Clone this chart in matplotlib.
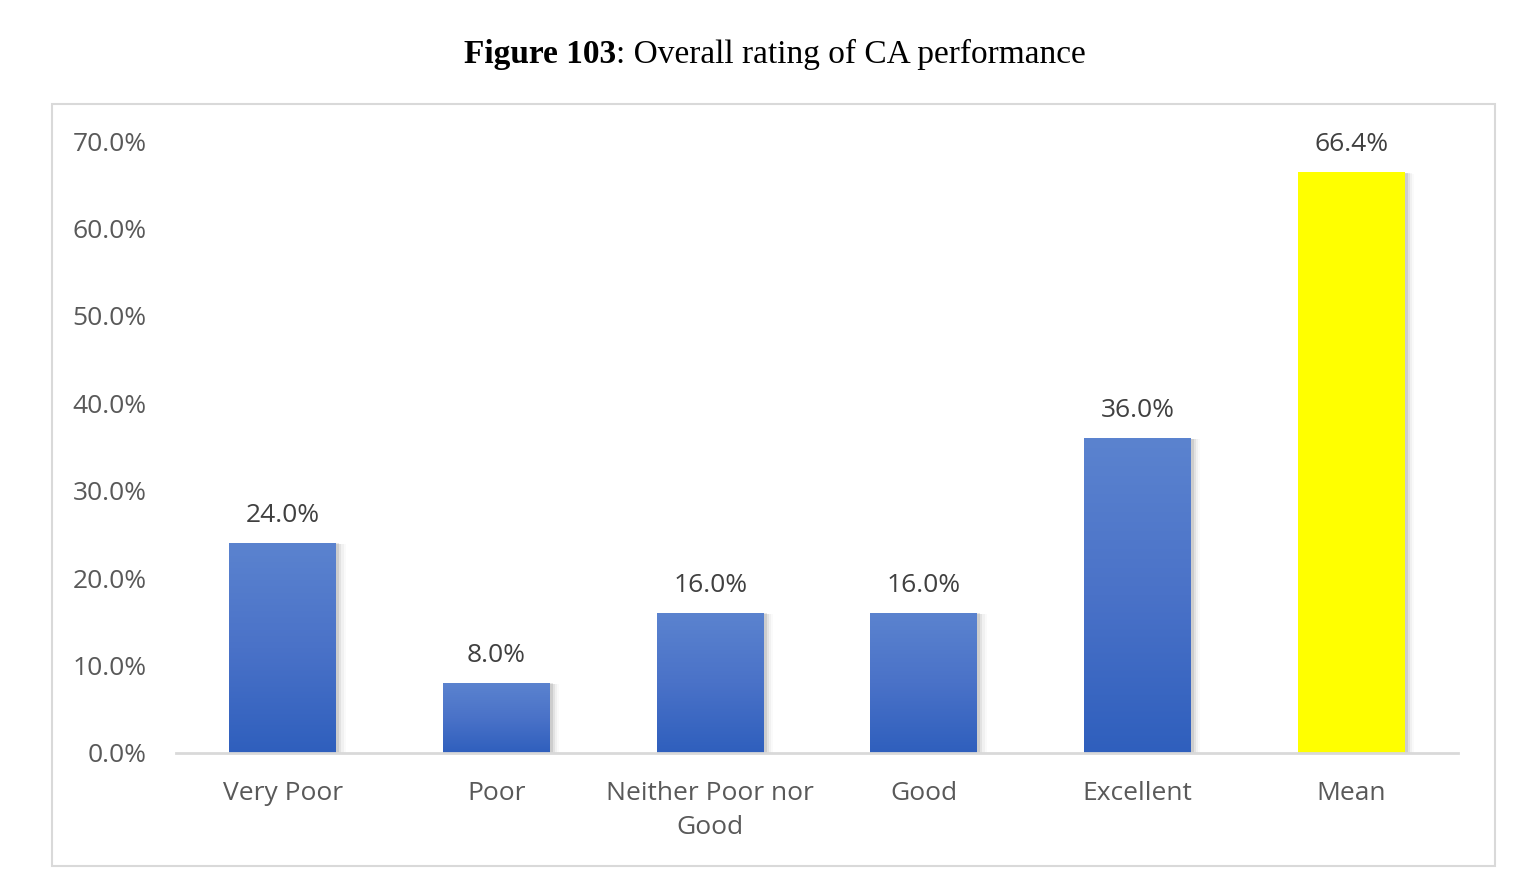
import numpy as np
import matplotlib.pyplot as plt
from matplotlib.patches import Rectangle
from matplotlib.colors import LinearSegmentedColormap

# ######### Data #########
categories = ['Very Poor', 'Poor', 'Neither Poor nor\nGood', 'Good', 'Excellent', 'Mean']
values = [24.0, 8.0, 16.0, 16.0, 36.0, 66.4]
highlight = 'Mean'

yticks = [0, 10, 20, 30, 40, 50, 60, 70]

# ######### Style #########
plt.rcParams['font.family'] = ['Open Sans', 'DejaVu Sans']
tick_color = '#595959'
label_color = '#404040'
grad = LinearSegmentedColormap.from_list('bar_grad', ['#2F5FBD', '#4A72C8', '#5B83CF'])

fig = plt.figure(figsize=(15.22, 8.84), dpi=100)
ax = fig.add_axes([176 / 1522, 1 - 753 / 884, (1458 - 176) / 1522, (753 - 141) / 884])

# outer chart frame
fig.patches.append(Rectangle((52 / 1522, 1 - 866 / 884), (1495 - 52) / 1522, (866 - 104) / 884,
                             transform=fig.transFigure, fill=False, edgecolor='#D9D9D9', lw=1.5))

x = np.arange(len(categories))
width = 0.5

gradient = np.linspace(0, 1, 256).reshape(-1, 1)

for xi, v, cat in zip(x, values, categories):
    # soft shadow
    for k, a in enumerate([0.09, 0.06, 0.035, 0.02]):
        d = 0.01 * (k + 1)
        ax.add_patch(Rectangle((xi - width / 2 + 0.004, 0), width + d, v - d * 3,
                               facecolor='black', alpha=a, edgecolor='none', zorder=1))
    if cat == highlight:
        ax.bar(xi, v, width=width, color='#FFFF00', zorder=3)
    else:
        bar = ax.bar(xi, v, width=width, color='none', zorder=3)[0]
        im = ax.imshow(gradient, cmap=grad, aspect='auto', origin='lower',
                       extent=[xi - width / 2, xi + width / 2, 0, v], zorder=3)
        im.set_clip_path(bar)
    ax.annotate(f'{v:.1f}%', (xi, v), xytext=(0, 11), textcoords='offset points',
                ha='center', va='bottom', fontsize=19, color=label_color)

ax.set_xlim(-0.5, len(categories) - 0.5)
ax.set_ylim(0, 70)
ax.set_xticks(x)
ax.set_xticklabels(categories, fontsize=19, color=tick_color, linespacing=1.5)
ax.set_yticks(yticks)
ax.set_yticklabels([f'{t:.1f}%' for t in yticks], fontsize=19, color=tick_color)
ax.tick_params(axis='both', length=0)
ax.tick_params(axis='x', pad=20)
ax.tick_params(axis='y', pad=21)

for s in ['top', 'right', 'left']:
    ax.spines[s].set_visible(False)
ax.spines['bottom'].set_color('#D9D9D9')
ax.spines['bottom'].set_linewidth(2)
ax.spines['bottom'].set_zorder(4)

# title: bold part + regular part
t1 = fig.text(0, 1 - 54 / 884, 'Figure 103', family='Liberation Serif', fontweight='bold',
              fontsize=24, va='center', ha='left')
t2 = fig.text(0, 1 - 54 / 884, ': Overall rating of CA performance', family='Liberation Serif',
              fontsize=24, va='center', ha='left')
r = fig.canvas.get_renderer()
w1 = t1.get_window_extent(r).width
start = 464
t1.set_x(start / 1522)
t2.set_x((start + w1) / 1522)

fig.savefig('out.png', dpi=100)
